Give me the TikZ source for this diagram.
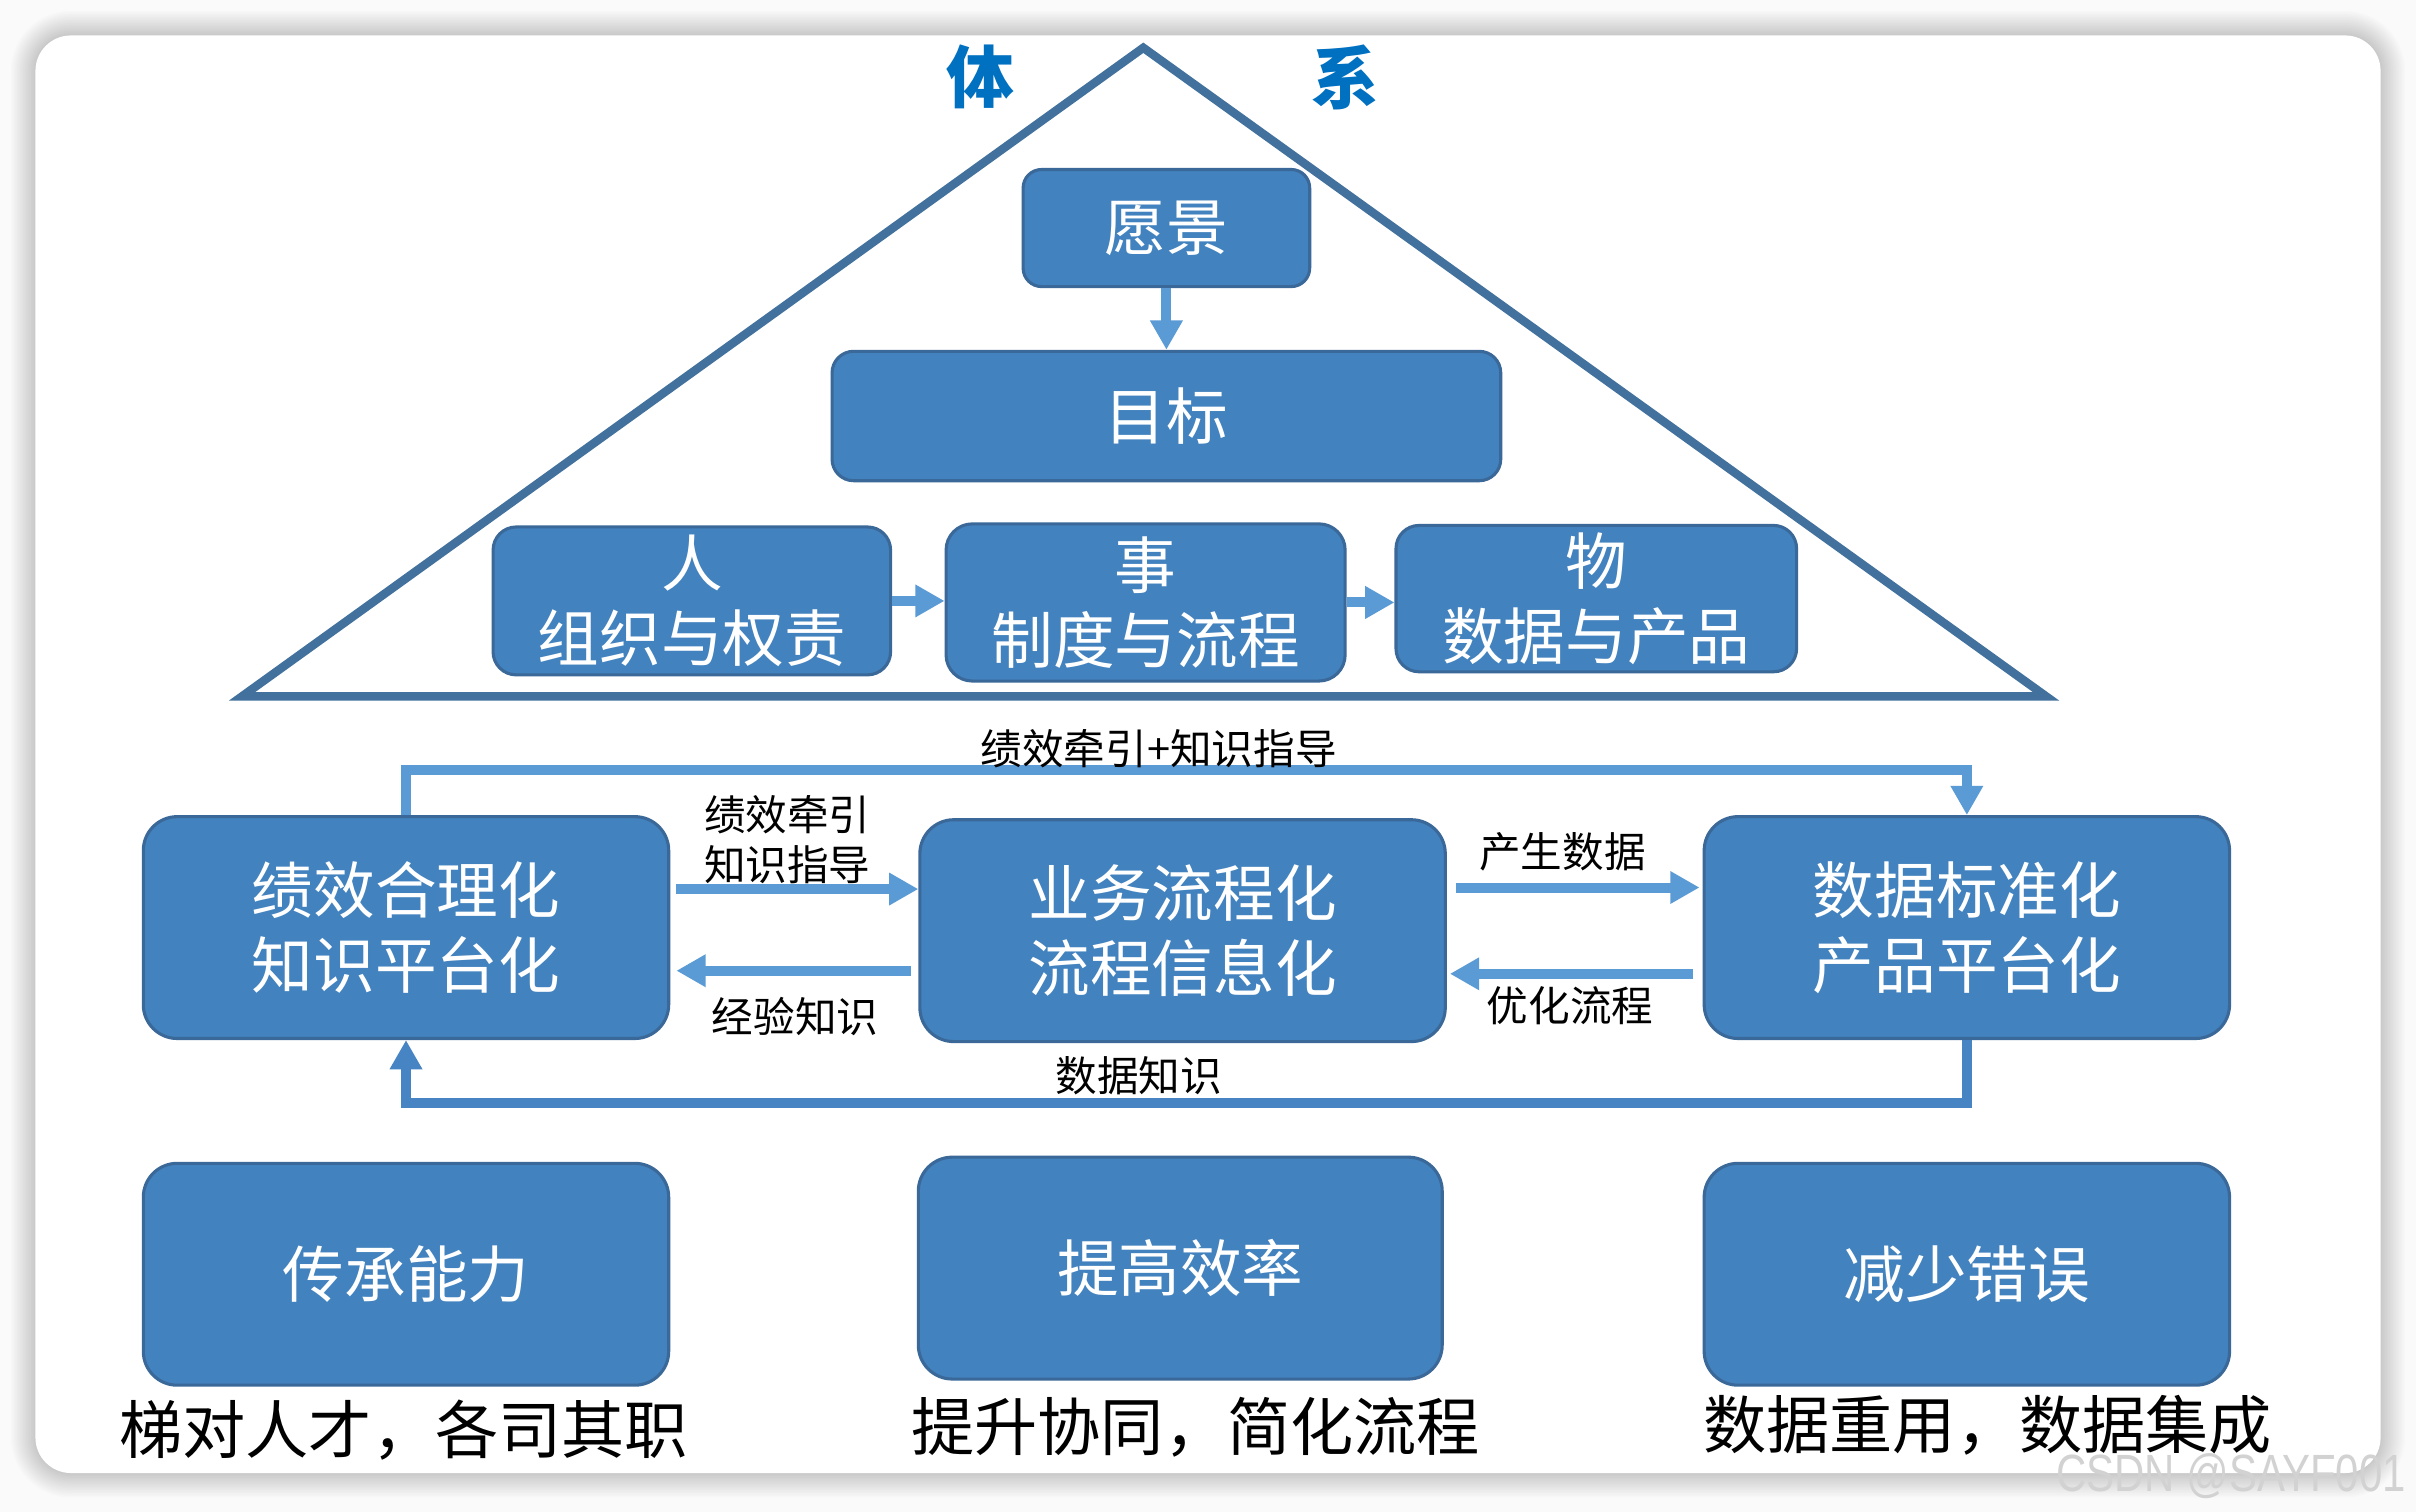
\documentclass[tikz,border=0pt]{standalone}
\usepackage{fontspec}
\setmainfont{Noto Sans CJK SC}
\newfontfamily\wmfont{Liberation Sans}
\usetikzlibrary{arrows.meta,calc}
\definecolor{boxfill}{RGB}{66,130,190}
\definecolor{boxline}{RGB}{58,104,152}
\definecolor{arrlight}{RGB}{91,155,213}
\definecolor{arrdark}{RGB}{70,132,196}
\definecolor{triline}{RGB}{65,113,156}
\definecolor{titleblue}{RGB}{0,112,192}
\newcommand\FBig{\fontsize{40}{49}\selectfont}
\newcommand\FSmall{\fontsize{27}{32}\selectfont}
\newcommand\FLab{\fontsize{41}{41}\selectfont}
\newcommand\FTitle{\fontsize{44}{44}\selectfont\bfseries}
\begin{document}
\begin{tikzpicture}[x=1pt,y=-1pt,
  bbox/.style={draw=boxline, line width=2pt, fill=boxfill, text=white,
    rounded corners=#1, inner sep=0pt, align=center, font=\FBig},
  bbox/.default=22pt,
  arrL/.style={draw=arrlight, line width=6.5pt,
    -{Triangle[width=20pt,length=19pt]}},
  arrD/.style={draw=arrdark, line width=6.5pt,
    -{Triangle[width=20pt,length=19pt]}},
  lab/.style={font=\FSmall, text=black, inner sep=0pt, align=left},
  blab/.style={font=\FLab, text=black, inner sep=0pt},
  ttl/.style={font=\FTitle, text=titleblue, inner sep=0pt}
]
\useasboundingbox (0,0) rectangle (1568,981);
% background and card
\fill[gray!4] (0,0) rectangle (1568,981);
\foreach \i in {1,...,16}{
  \fill[black, opacity=0.011, rounded corners={(23+\i)*1pt}]
    ({23-\i},{23-\i}) rectangle ({1545+\i},{956+\i});
}
\fill[white, rounded corners=23pt] (23,23) rectangle (1545,956);

% triangle
\coordinate (tA) at (742,31);
\coordinate (tR) at (1328,452);
\coordinate (tL) at (157,452);
\draw[triline, line width=5.5pt, line join=miter] (tA) -- (tR) -- (tL) -- cycle;
\node[ttl] (ti) at (636,50) {体};
\node[ttl] (xi) at (873,50) {系};

% pyramid boxes
\node[bbox=12pt, minimum width=186pt, minimum height=76pt] (yj) at (757,148) {愿景};
\node[bbox=14pt, minimum width=434pt, minimum height=84pt] (mb) at (757,270) {目标};
\node[bbox=15pt, minimum width=258pt, minimum height=96pt] (ren) at (449,390) {\raisebox{2pt}{人}\\\raisebox{2pt}{组织与权责}};
\node[bbox=17pt, minimum width=259pt, minimum height=102pt] (shi) at (743.5,391) {\raisebox{3pt}{事}\\\raisebox{3pt}{制度与流程}};
\node[bbox=15pt, minimum width=260pt, minimum height=95pt] (wu) at (1036,388.5) {\raisebox{2pt}{物}\\\raisebox{2pt}{数据与产品}};

\draw[arrL] (yj) -- (mb);
\draw[arrL] (ren.east) -- (ren.east -| shi.west);
\draw[arrL] (shi.east) -- (shi.east -| wu.west);

% middle row
\node[bbox, minimum width=341pt, minimum height=144pt] (jx) at (263.5,602) {\raisebox{3pt}{绩效合理化}\\\raisebox{3pt}{知识平台化}};
\node[bbox, minimum width=341pt, minimum height=144pt] (yw) at (767.5,604) {\raisebox{3pt}{业务流程化}\\\raisebox{3pt}{流程信息化}};
\node[bbox, minimum width=341pt, minimum height=144pt] (sj) at (1276.5,602) {\raisebox{3pt}{数据标准化}\\\raisebox{3pt}{产品平台化}};

\draw[arrL] (jx.north) -- ++(0,-29) -| (sj.north);
\draw[arrD] (sj.south) -- ++(0,41) -| (jx.south);

\draw[arrL] ([xshift=4pt,yshift=25pt]jx.east) coordinate (a1) -- (a1 -| yw.west);
\draw[arrL] ([xshift=-5pt,yshift=-26pt]yw.west) coordinate (a2) -- ($(a2 -| jx.east)+(4,0)$);
\draw[arrL] ([xshift=6pt,yshift=28pt]yw.east) coordinate (a3) -- ($(a3 -| sj.west)+(-2,0)$);
\draw[arrL] ([xshift=-6pt,yshift=-30pt]sj.west) coordinate (a4) -- ($(a4 -| yw.east)+(2,0)$);

\node[lab] (l1) at (752,486) {绩效牵引+知识指导};
\node[lab] (l2) at (511,545) {绩效牵引\\知识指导};
\node[lab] (l3) at (516,660) {经验知识};
\node[lab] (l4) at (1014,553) {产生数据};
\node[lab] (l5) at (1019,653) {优化流程};
\node[lab] (l6) at (739,698) {数据知识};

% bottom row
\node[bbox, minimum width=341pt, minimum height=144pt] (cc) at (263.5,827) {传承能力};
\node[bbox, minimum width=340pt, minimum height=144pt] (tg) at (766,823) {提高效率};
\node[bbox, minimum width=341pt, minimum height=144pt] (js) at (1276.5,827) {减少错误};

\node[blab] (b1) at (262,928) {梯对人才，各司其职};
\node[blab] (b2) at (776,926) {提升协同，简化流程};
\node[blab] (b3) at (1290,925) {数据重用，数据集成};

% watermark
\node[inner sep=0pt, text=gray!35, font=\wmfont\fontsize{34}{34}\selectfont] (wm) at (1448,958) {\scalebox{0.8}[1]{CSDN @SAYF001}};
\end{tikzpicture}
\end{document}
